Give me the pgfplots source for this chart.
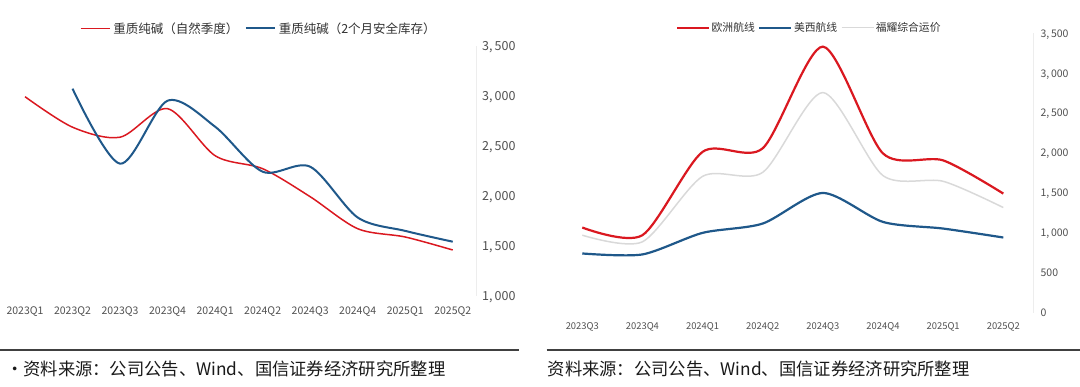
\documentclass[border=0pt]{standalone}
\usepackage{fontspec}
\setmainfont{Noto Sans CJK SC}
\usepackage{pgfplots}
\pgfplotsset{compat=1.18}
\definecolor{cred}{RGB}{218,24,32}
\definecolor{cblue}{RGB}{31,88,138}
\definecolor{cgray}{RGB}{217,217,217}
\definecolor{tickgray}{RGB}{80,80,80}
\definecolor{legtext}{RGB}{50,50,50}
\begin{document}
\begin{tikzpicture}
\path[use as bounding box] (0bp,0bp) rectangle (1080bp,387bp);
% ---------------- left chart ----------------
\begin{axis}[
  at={(1.25bp,91.3bp)}, anchor=south west,
  scale only axis, width=475.25bp, height=250bp,
  xmin=-0.5, xmax=9.5, ymin=1000, ymax=3500,
  axis line style={draw=none},
  major tick length=0pt,
  xtick={0,...,9},
  xticklabels={2023Q1,2023Q2,2023Q3,2023Q4,2024Q1,2024Q2,2024Q3,2024Q4,2025Q1,2025Q2},
  ytick={1000,1500,...,3500},
  yticklabel pos=right,
  /pgf/number format/assume math mode=true,
  /pgf/number format/1000 sep={,\,},
  every tick label/.append style={inner sep=0pt, text=tickgray},
  yticklabel style={anchor=base west, xshift=5.5bp, yshift=-4.5bp, font=\fontsize{12.5bp}{14bp}\selectfont},
  xticklabel style={anchor=base, yshift=-18.8bp, font=\fontsize{10.5bp}{12bp}\selectfont},
  legend columns=-1,
  legend image code/.code={\draw[#1] (0bp,0bp) -- (29.5bp,0bp);},
  legend style={at={(axis description cs:0.5424,1.0688)}, anchor=center, draw=none, fill=none,
    inner sep=0pt, font=\fontsize{12.5bp}{14bp}\selectfont, text=legtext,
    nodes={inner sep=2.5bp},
    /tikz/every even column/.append style={column sep=4bp}},
  clip=false,
]
\draw[black!7] (rel axis cs:1,0) -- (rel axis cs:1,1);
\addplot[cred, line width=1.5bp, smooth, tension=0.5] coordinates {
  (0,2990) (1,2685) (2,2585) (3,2870) (4,2400) (5,2270) (6,1990) (7,1670) (8,1587) (9,1457)};
\addlegendentry{重质纯碱（自然季度）}
\addplot[cblue, line width=2bp, smooth, tension=0.5] coordinates {
  (1,3070) (2,2320) (3,2950) (4,2690) (5,2240) (6,2290) (7,1782) (8,1648) (9,1540)};
\addlegendentry{重质纯碱（2个月安全库存）}
\end{axis}
% ---------------- right chart ----------------
\begin{axis}[
  at={(552.2bp,74.3bp)}, anchor=south west,
  scale only axis, width=481.2bp, height=279.4bp,
  xmin=-0.5, xmax=7.5, ymin=0, ymax=3500,
  axis line style={draw=none},
  major tick length=0pt,
  xtick={0,...,7},
  xticklabels={2023Q3,2023Q4,2024Q1,2024Q2,2024Q3,2024Q4,2025Q1,2025Q2},
  ytick={0,500,...,3500},
  yticklabel pos=right,
  /pgf/number format/assume math mode=true,
  /pgf/number format/1000 sep={,\,},
  every tick label/.append style={inner sep=0pt, text=tickgray},
  yticklabel style={anchor=base west, xshift=7bp, yshift=-3.8bp, font=\fontsize{10.5bp}{12bp}\selectfont},
  xticklabel style={anchor=base, yshift=-16.8bp, font=\fontsize{9.4bp}{11bp}\selectfont},
  legend columns=-1,
  legend image code/.code={\draw[#1] (0bp,0bp) -- (32bp,0bp);},
  legend style={at={(axis description cs:0.5337,1.020)}, anchor=center, draw=none, fill=none,
    inner sep=0pt, font=\fontsize{10.8bp}{12bp}\selectfont, text=legtext,
    nodes={inner sep=1.5bp},
    /tikz/every even column/.append style={column sep=2bp}},
  clip=false,
]
\draw[black!7] (rel axis cs:1,0) -- (rel axis cs:1,1);
\addplot[cred, line width=2.2bp, smooth, tension=0.45] coordinates {
  (0,1067) (1,971) (2,2015) (3,2060) (4,3333) (5,1995) (6,1908) (7,1492)};
\addlegendentry{欧洲航线}
\addplot[cblue, line width=2.2bp, smooth, tension=0.45] coordinates {
  (0,742) (1,730) (2,1000) (3,1117) (4,1500) (5,1137) (6,1054) (7,942)};
\addlegendentry{美西航线}
\addplot[cgray, line width=1.5bp, smooth, tension=0.45] coordinates {
  (0,971) (1,888) (2,1708) (3,1758) (4,2758) (5,1717) (6,1646) (7,1317)};
\addlegendentry{福耀综合运价}
\end{axis}
% ---------------- source lines ----------------
\draw[black!75, line width=1.3bp] (0bp,37bp) -- (519bp,37bp);
\draw[black!75, line width=1.3bp] (546.7bp,37bp) -- (1080bp,37bp);
\node[anchor=base west, inner sep=0pt, font=\fontsize{17.3bp}{20bp}\selectfont, text=black!90] at (6bp,12bp) {・资料来源：公司公告、Wind、国信证券经济研究所整理};
\node[anchor=base west, inner sep=0pt, font=\fontsize{17.3bp}{20bp}\selectfont, text=black!90] at (547.5bp,12bp) {资料来源：公司公告、Wind、国信证券经济研究所整理};
\end{tikzpicture}
\end{document}
